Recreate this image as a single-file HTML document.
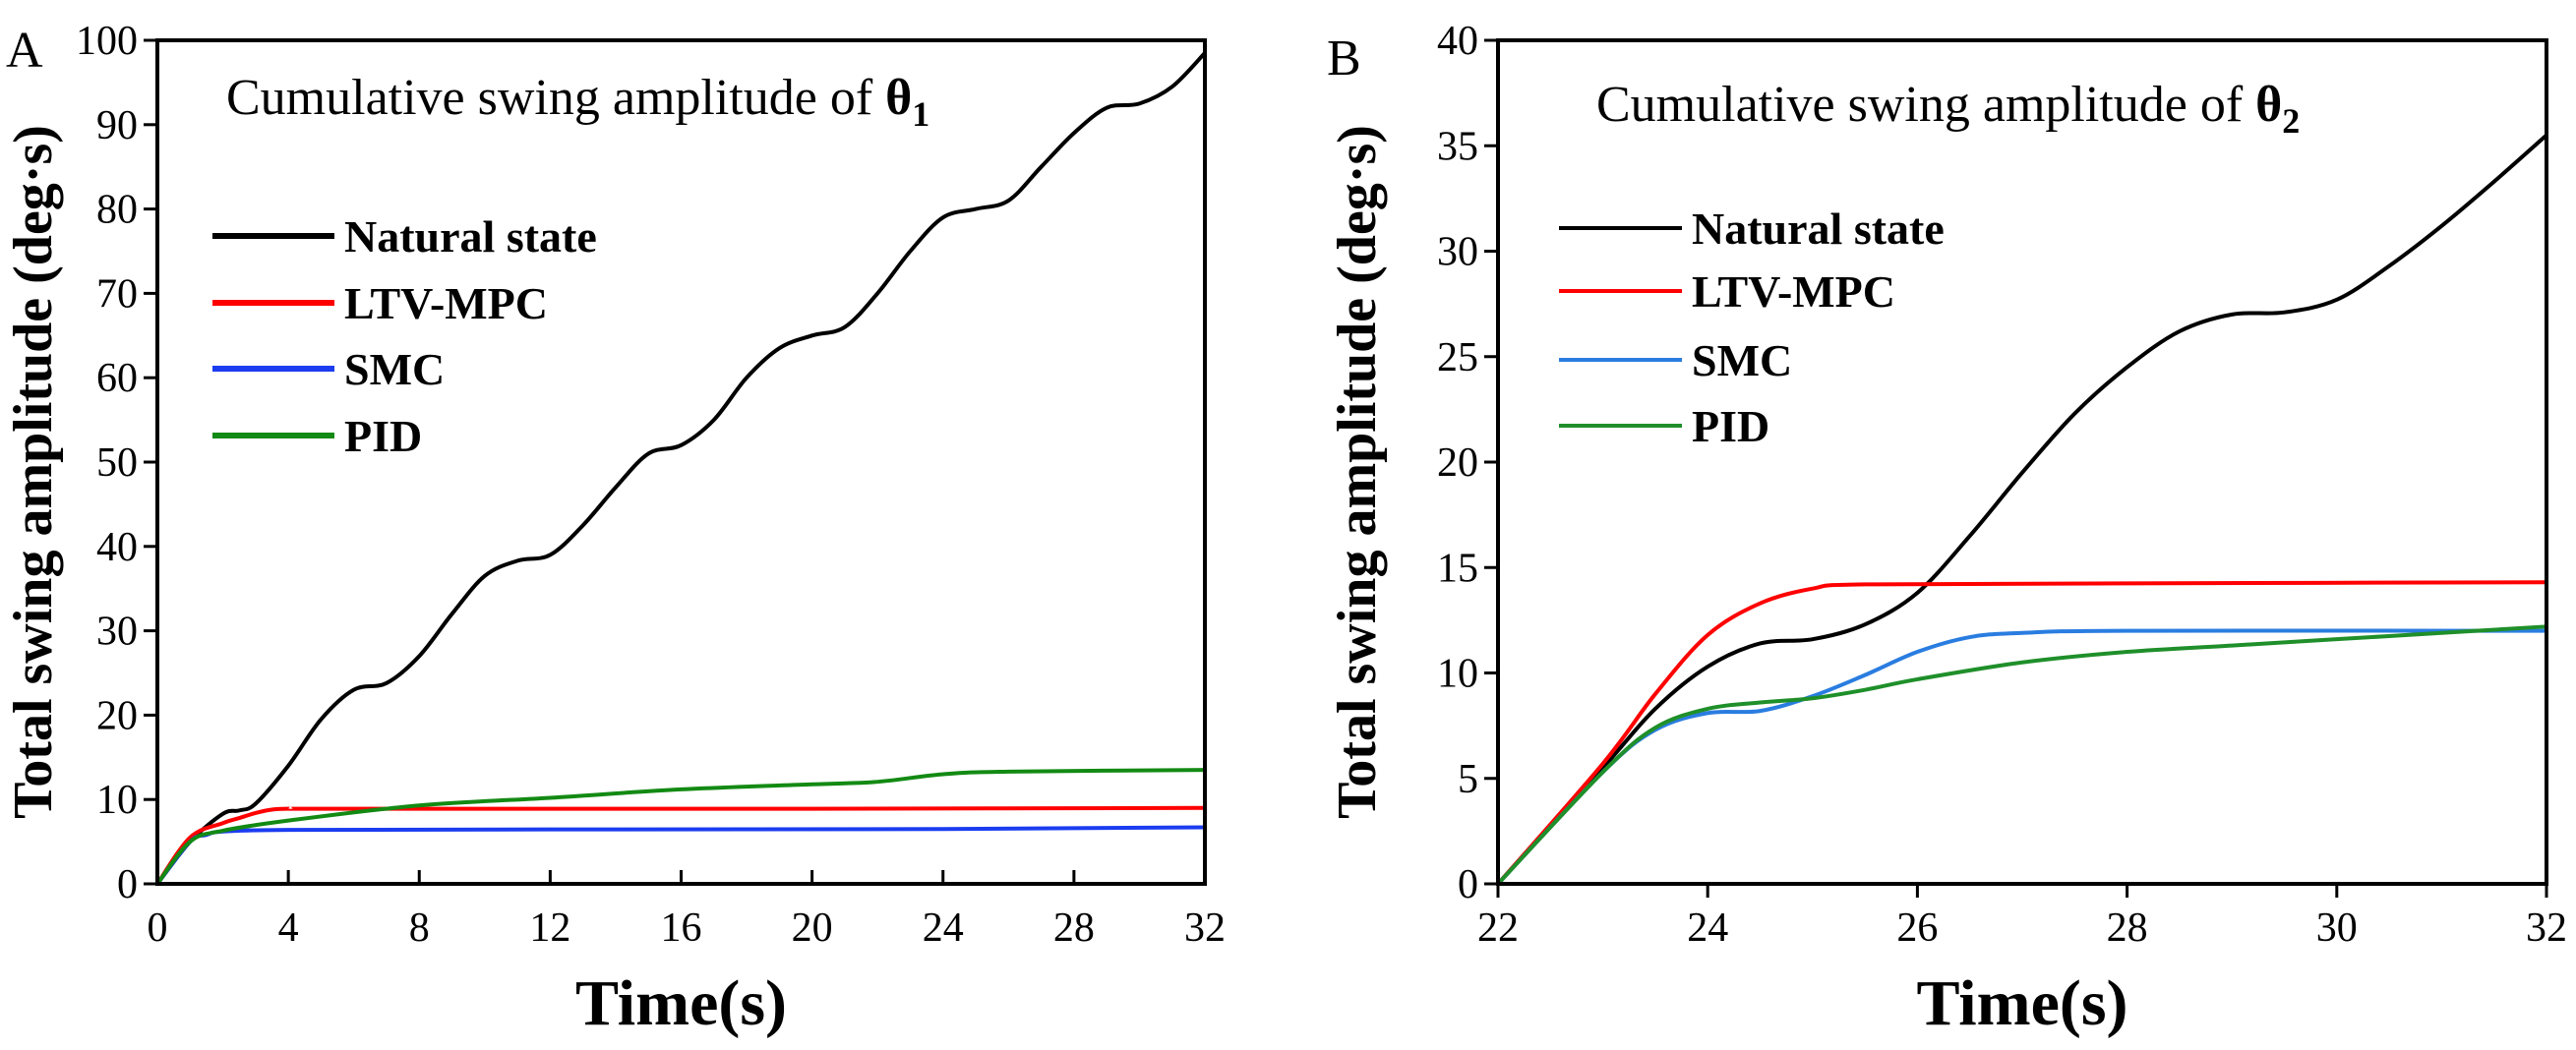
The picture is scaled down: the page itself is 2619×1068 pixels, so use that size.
<!DOCTYPE html>
<html><head><meta charset="utf-8"><style>
html,body{margin:0;padding:0;background:#fff;}
svg{display:block;}
text{font-family:"Liberation Serif",serif;fill:#000;}
</style></head><body>
<svg id="fig" width="2619" height="1068" viewBox="0 0 2619 1068" xmlns="http://www.w3.org/2000/svg"></svg>
<script>
// ---- Panel A data ----
const aNatT=[0,1,2,2.5,3,4,5,6,7,8,9,10,11,12,13,14,15,16,17,18,19,20,21,22,23,24,25,26,27,28,29,30,31,32];
const aNatY=[0,5,8.3,8.7,9.5,14,19.5,23,23.8,27,32,36.5,38.3,39,42.5,47,51,52,55,60,63.5,65,66,70,75,79,80,81,85,89,92,92.5,94.5,98.5];
const aMpcT=[0,1,2,2.5,3,3.5,4,5,12,20,32];
const aMpcY=[0,5.5,7.2,7.8,8.4,8.8,8.9,8.9,8.9,8.9,9];
const aSmcT=[0,1,1.5,2,4,12,24,32];
const aSmcY=[0,5,5.8,6.2,6.4,6.45,6.5,6.7];
const aPidT=[0,1,2,4,8,12,16,20,22,24,26,32];
const aPidY=[0,5,6.3,7.5,9.3,10.2,11.2,11.8,12.1,13,13.3,13.5];
const aXTicks=[0,4,8,12,16,20,24,28,32];
const aYTicks=[0,10,20,30,40,50,60,70,80,90,100];
// ---- Panel B data ----
const bNatT=[22,23,23.5,24,24.5,25,25.5,26,26.5,27,27.5,28,28.5,29,29.5,30,30.5,31,31.5,32];
const bNatY=[0,5.5,8.3,10.3,11.4,11.6,12.3,13.8,16.5,19.5,22.3,24.5,26.2,27,27.1,27.7,29.3,31.2,33.3,35.5];
const bMpcT=[22,23,23.5,24,24.5,25,25.5,28,32];
const bMpcY=[0,5.7,9,11.8,13.3,14,14.2,14.25,14.3];
const bSmcT=[22,23,23.5,24,24.5,25,25.5,26,26.5,27,28,32];
const bSmcY=[0,5.3,7.3,8.1,8.2,8.9,9.9,11,11.7,11.9,12,12];
const bPidT=[22,23,23.5,24,24.5,25,25.5,26,27,28,29,30,31,32];
const bPidY=[0,5.3,7.4,8.3,8.6,8.8,9.2,9.7,10.5,11,11.3,11.6,11.9,12.2];
const bXTicks=[22,24,26,28,30,32];
const bYTicks=[0,5,10,15,20,25,30,35,40];

const NS="http://www.w3.org/2000/svg";
const svg=document.getElementById('fig');
function mk(tag,attrs,parent){const e=document.createElementNS(NS,tag);for(const k in attrs)e.setAttribute(k,attrs[k]);(parent||svg).appendChild(e);return e;}
function smooth(pts){let d=`M${pts[0][0]},${pts[0][1]}`;for(let i=0;i<pts.length-1;i++){const p0=pts[Math.max(0,i-1)],p1=pts[i],p2=pts[i+1],p3=pts[Math.min(pts.length-1,i+2)];const c1=[p1[0]+(p2[0]-p0[0])/6,p1[1]+(p2[1]-p0[1])/6];const c2=[p2[0]-(p3[0]-p1[0])/6,p2[1]-(p3[1]-p1[1])/6];d+=` C${c1[0]},${c1[1]} ${c2[0]},${c2[1]} ${p2[0]},${p2[1]}`;}return d;}

function panel(cfg){
  const g=mk('g',{});
  
  
  const X=v=>cfg.x0+(v-cfg.xmin)/(cfg.xmax-cfg.xmin)*(cfg.x1-cfg.x0);
  const Y=v=>cfg.y1-(v-cfg.ymin)/(cfg.ymax-cfg.ymin)*(cfg.y1-cfg.y0);
  cfg.series.forEach(s=>{
    const p=mk('path',{d:smooth(s.t.map((t,i)=>[X(t),Y(s.y[i])])),fill:'none',stroke:s.color,'stroke-width':4,'stroke-linejoin':'round'},g);
    
    
  });
  const fr=mk('rect',{x:cfg.x0,y:cfg.y0,width:cfg.x1-cfg.x0,height:cfg.y1-cfg.y0,fill:'none',stroke:'#000','stroke-width':4},g);
  
  
  cfg.xticks.forEach(v=>{
    const x=X(v);
    mk('line',{x1:x,x2:x,y1:cfg.y1,y2:cfg.y1+(cfg.xin?-14:14),stroke:'#000','stroke-width':3},g);
    const t=mk('text',{x:x,y:cfg.y1+58,'text-anchor':'middle','font-size':42},g);t.textContent=v;
    
    
  });
  cfg.yticks.forEach(v=>{
    const y=Y(v);
    mk('line',{x1:cfg.x0,x2:cfg.x0-14,y1:y,y2:y,stroke:'#000','stroke-width':3},g);
    const t=mk('text',{x:cfg.x0-20,y:y+14,'text-anchor':'end','font-size':42},g);t.textContent=v;
    
    
  });
  const yt=mk('text',{x:0,y:0,transform:`translate(${cfg.ytx},${(cfg.y0+cfg.y1)/2+10}) rotate(-90)`,'text-anchor':'middle','font-size':56,'font-weight':'bold'},g);
  yt.textContent='Total swing amplitude (deg·s)';
  
  
  const xt=mk('text',{x:(cfg.x0+cfg.x1)/2,y:1042,'text-anchor':'middle','font-size':66,'font-weight':'bold'},g);
  xt.textContent='Time(s)';
  
  
  const tt=mk('text',{x:cfg.titleX,y:cfg.titleY,'font-size':52},g);
  tt.innerHTML=`Cumulative swing amplitude of <tspan font-weight="bold">θ</tspan><tspan font-weight="bold" font-size="36" dy="12">${cfg.sub}</tspan>`;
  
  
  const pl=mk('text',{x:cfg.letterX,y:cfg.letterY,'font-size':52},g);
  pl.textContent=cfg.letter;
  
  
  cfg.series.forEach((s,i)=>{
    const ly=cfg.legY[i];
    const lg=mk('g',{},g);
    
    
    mk('line',{x1:cfg.legX0,x2:cfg.legX1,y1:ly,y2:ly,stroke:s.color,'stroke-width':cfg.legW},lg);
    const lt=mk('text',{x:cfg.legX1+10,y:ly+16,'font-size':46,'font-weight':'bold'},lg);lt.textContent=s.label;
  });
}
panel({name:'panel-a',x0:160,x1:1225,y0:41,y1:899,xmin:0,xmax:32,ymin:0,ymax:100,xticks:aXTicks,yticks:aYTicks,xin:true,ytx:52,
  titleX:230,titleY:116,sub:'1',letter:'A',letterX:6,letterY:68,legX0:216,legX1:340,legW:6,legY:[240,308,375,443],
  series:[{key:'natural',label:'Natural state',color:'#000',t:aNatT,y:aNatY},{key:'ltv-mpc',label:'LTV-MPC',color:'#f00',t:aMpcT,y:aMpcY},{key:'smc',label:'SMC',color:'#1b3cf0',t:aSmcT,y:aSmcY},{key:'pid',label:'PID',color:'#138a13',t:aPidT,y:aPidY}]});
panel({name:'panel-b',x0:1523,x1:2589,y0:41,y1:899,xmin:22,xmax:32,ymin:0,ymax:40,xticks:bXTicks,yticks:bYTicks,xin:false,ytx:1398,
  titleX:1623,titleY:123,sub:'2',letter:'B',letterX:1349,letterY:76,legX0:1585,legX1:1710,legW:4,legY:[232,296,366,433],
  series:[{key:'natural',label:'Natural state',color:'#000',t:bNatT,y:bNatY},{key:'ltv-mpc',label:'LTV-MPC',color:'#f00',t:bMpcT,y:bMpcY},{key:'smc',label:'SMC',color:'#2a7de0',t:bSmcT,y:bSmcY},{key:'pid',label:'PID',color:'#1f8f2a',t:bPidT,y:bPidY}]});
</script>
</body></html>
